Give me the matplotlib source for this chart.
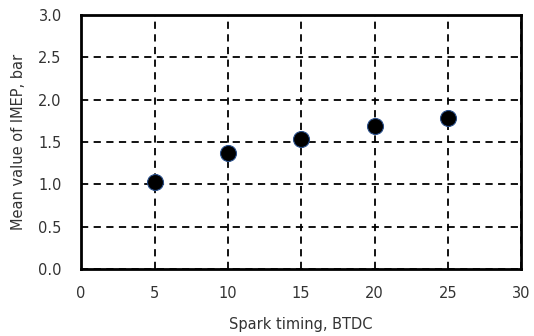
import matplotlib.pyplot as plt

# spark timing (deg BTDC) vs mean IMEP
spark_timing = [5, 10, 15, 20, 25]
mean_imep = [1.03, 1.37, 1.54, 1.69, 1.79]

x_ticks = [0, 5, 10, 15, 20, 25, 30]
y_ticks = [0.0, 0.5, 1.0, 1.5, 2.0, 2.5, 3.0]

fig = plt.figure(figsize=(5.34, 3.36), dpi=100)
ax = fig.add_axes([0.152, 0.199, 0.824, 0.756])

ax.plot(spark_timing, mean_imep, 'o', color='black', markersize=11.5,
        markeredgecolor='#2a4f8a', markeredgewidth=0.8, zorder=3, clip_on=False)

ax.set_xlim(0, 30)
ax.set_ylim(0, 3.0)
ax.set_xticks(x_ticks)
ax.set_yticks(y_ticks)
ax.set_yticklabels(['%.1f' % v for v in y_ticks])
ax.grid(True, color='black', linestyle=(0, (4, 3)), linewidth=1.3)
ax.tick_params(axis='y', length=0, labelsize=10.5, colors='#333333', pad=14)
ax.tick_params(axis='x', length=0, labelsize=10.5, colors='#333333', pad=12)
for s in ax.spines.values():
    s.set_linewidth(2)

ax.set_xlabel('Spark timing, BTDC', fontsize=10.5, color='#333333')
ax.set_ylabel('Mean value of IMEP, bar', fontsize=10.5, color='#333333')
ax.xaxis.set_label_coords(0.5, -0.19)
ax.yaxis.set_label_coords(-0.125, 0.5)

fig.savefig('out.png', dpi=100)
